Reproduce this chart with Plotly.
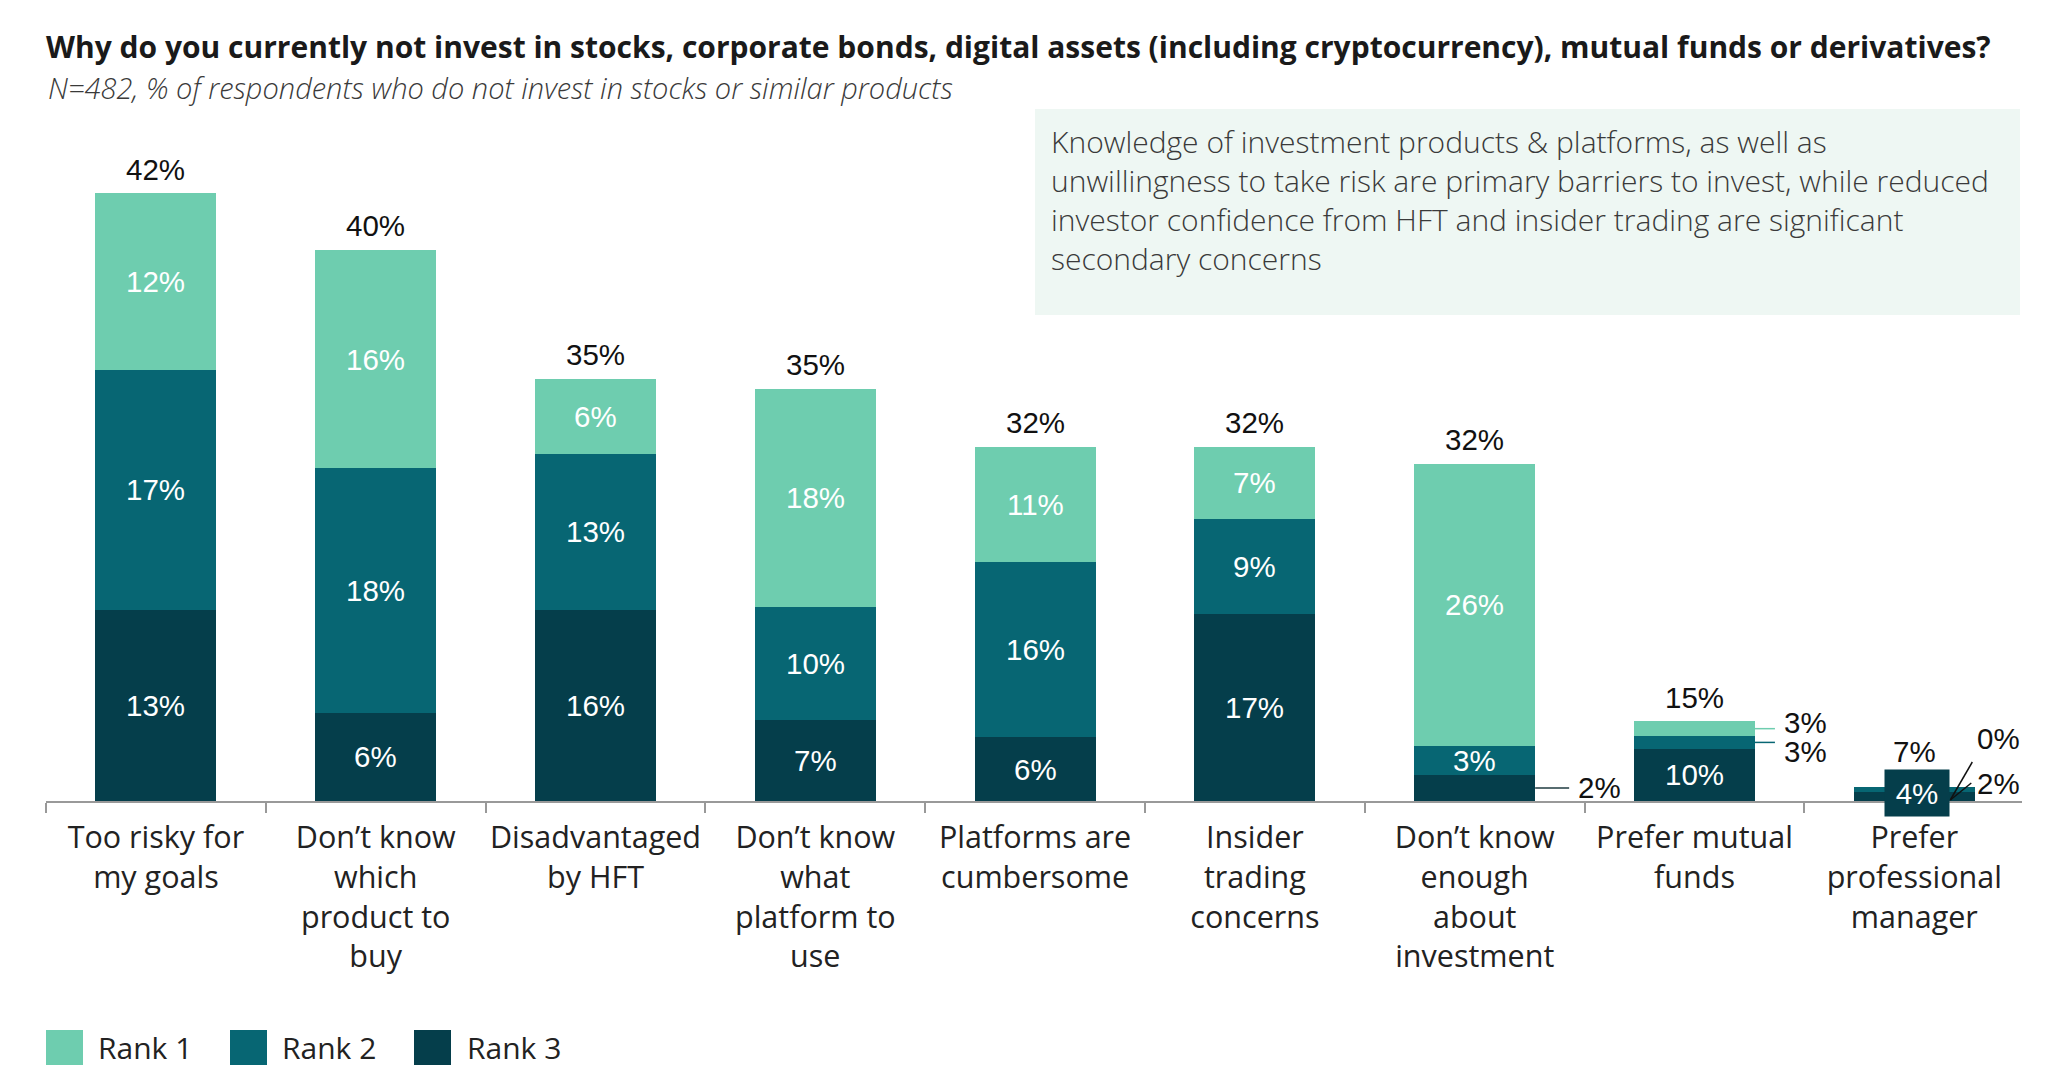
import numpy as np
import plotly.graph_objects as go

# ---------------- data ----------------
categories = [
    "Too risky for<br>my goals",
    "Don’t know<br>which<br>product to<br>buy",
    "Disadvantaged<br>by HFT",
    "Don’t know<br>what<br>platform to<br>use",
    "Platforms are<br>cumbersome",
    "Insider<br>trading<br>concerns",
    "Don’t know<br>enough<br>about<br>investment",
    "Prefer mutual<br>funds",
    "Prefer<br>professional<br>manager",
]
# segment heights as drawn in the picture (% units)
rank1_h = [12.2, 15.1, 5.2, 15.1, 8.0, 5.0, 19.5, 1.0, 0.0]
rank2_h = [16.6, 16.9, 10.8, 7.8, 12.1, 6.6, 2.0, 0.9, 0.4]
rank3_h = [13.2, 6.1, 13.2, 5.6, 4.4, 12.9, 1.8, 3.6, 0.6]
# printed labels
rank1_lbl = ["12%", "16%", "6%", "18%", "11%", "7%", "26%", "3%", "0%"]
rank2_lbl = ["17%", "18%", "13%", "10%", "16%", "9%", "3%", "3%", "2%"]
rank3_lbl = ["13%", "6%", "16%", "7%", "6%", "17%", "2%", "10%", "4%"]
total_lbl = ["42%", "40%", "35%", "35%", "32%", "32%", "32%", "15%", "7%"]
series_names = ["Rank 1", "Rank 2", "Rank 3"]

# ---------------- style ----------------
C1, C2, C3 = "#6ECDAF", "#076673", "#053E4B"
BAR_W = 0.55
LBL_FONT = dict(family="Liberation Sans, Arial, sans-serif", size=29.5)
OS = "Open Sans, sans-serif"

fig = go.Figure()
for h, c, n in [(rank3_h, C3, "Rank 3"), (rank2_h, C2, "Rank 2"), (rank1_h, C1, "Rank 1")]:
    fig.add_trace(go.Bar(x=categories, y=h, name=n, marker=dict(color=c, line=dict(width=0)),
                         width=BAR_W, showlegend=False, hoverinfo="skip"))

r1, r2, r3 = map(np.array, (rank1_h, rank2_h, rank3_h))
base = {"r3": np.zeros(9), "r2": r3, "r1": r3 + r2}
heights = {"r1": r1, "r2": r2, "r3": r3}
labels = {"r1": rank1_lbl, "r2": rank2_lbl, "r3": rank3_lbl}
colors = {"r1": C1, "r2": C2, "r3": C3}
tops = r1 + r2 + r3

# outside labels with short leader lines: (series, index) -> (line px, text xshift, text yshift)
side = {("r3", 6): (34, 41, 0), ("r1", 7): (20, 27, 6), ("r2", 7): (20, 27, -9)}
special_last = {("r1", 8), ("r2", 8), ("r3", 8)}

ann = []
shapes = []
for s in ["r1", "r2", "r3"]:
    for i in range(9):
        mid = base[s][i] + heights[s][i] / 2
        if (s, i) in side:
            ln, xs, ys = side[(s, i)]
            line_col = colors[s] if s != "r3" else "#1f3b40"
            shapes.append(dict(type="line", xref="x", yref="y", xsizemode="pixel",
                               xanchor=i + BAR_W / 2, x0=0, x1=ln, y0=mid, y1=mid,
                               line=dict(color=line_col, width=1.5)))
            ann.append(dict(x=i + BAR_W / 2, y=mid, text=labels[s][i],
                            xanchor="left", yanchor="middle", xshift=xs, yshift=ys,
                            showarrow=False, font=dict(color="#111", **LBL_FONT)))
        elif (s, i) in special_last:
            continue
        else:
            ann.append(dict(x=i, y=mid, text=labels[s][i], showarrow=False,
                            xanchor="center", yanchor="middle",
                            font=dict(color="white", **LBL_FONT)))

# last category: boxed rank-3 label and pointer labels for rank 1 / rank 2
ann.append(dict(x=8, y=0, text=rank3_lbl[8], showarrow=False, xanchor="center", yanchor="middle",
                yshift=8, xshift=3, bgcolor=C3, width=52, height=34, borderpad=6,
                font=dict(color="white", **LBL_FONT)))
for s, ys_txt, (lx0, ly0) in [("r1", 63, (58, 39)), ("r2", 18, (57, 18))]:
    ann.append(dict(x=8, y=0, text=labels[s][8], showarrow=False, xanchor="center",
                    yanchor="middle", xshift=84, yshift=ys_txt, font=dict(color="#111", **LBL_FONT)))
    shapes.append(dict(type="line", xref="x", yref="y", xsizemode="pixel", ysizemode="pixel",
                       xanchor=8, yanchor=0, x0=lx0, y0=ly0, x1=36, y1=1,
                       line=dict(color="#111", width=1.5)))

# totals
for i in range(9):
    ann.append(dict(x=i, y=tops[i], text=total_lbl[i], showarrow=False, xanchor="center",
                    yanchor="middle", yshift=35 if i == 8 else 24,
                    font=dict(color="#111", **LBL_FONT)))

# ---------------- layout geometry ----------------
W, H = 2059, 1077
L, R, T, B = 46, 37, 150, 276
PW, PH = W - L - R, H - T - B


def px(xp):
    return (xp - L) / PW


def py(yp):
    return (H - B - yp) / PH


# subtitle
ann.append(dict(xref="paper", yref="paper", x=0, y=py(87), xanchor="left", yanchor="middle",
                text="<i>N=482, % of respondents who do not invest in stocks or similar products</i>",
                showarrow=False, font=dict(family=OS, size=29, color="#3a3a3a", weight=300)))

# callout box
shapes.append(dict(type="rect", xref="paper", yref="paper", x0=px(1035), x1=px(2020),
                   y0=py(315), y1=py(109), fillcolor="#EEF7F3", line=dict(width=0), layer="below"))
ann.append(dict(xref="paper", yref="paper", x=px(1049), y=py(200), xanchor="left", yanchor="middle",
                align="left", showarrow=False,
                text=("Knowledge of investment products &amp; platforms, as well as<br>"
                      "unwillingness to take risk are primary barriers to invest, while reduced<br>"
                      "investor confidence from HFT and insider trading are significant<br>"
                      "secondary concerns"),
                font=dict(family=OS, size=30, color="#3a3a3a", weight=300)))

# legend (manual)
for (x0, x1, tx), n, c in zip([(46, 83, 96), (230, 267, 280), (414, 451, 465)], series_names, [C1, C2, C3]):
    shapes.append(dict(type="rect", xref="paper", yref="paper", x0=px(x0), x1=px(x1),
                       y0=py(1065), y1=py(1030), fillcolor=c, line=dict(width=0)))
    ann.append(dict(xref="paper", yref="paper", x=px(tx), y=py(1047), xanchor="left",
                    yanchor="middle", text=n, showarrow=False,
                    font=dict(family=OS, size=30, color="#222")))

fig.update_layout(
    width=W, height=H,
    margin=dict(l=L, r=R, t=T, b=B, pad=0, autoexpand=False),
    barmode="stack",
    bargap=0,
    paper_bgcolor="white",
    plot_bgcolor="white",
    title=dict(text="<b>Why do you currently not invest in stocks, corporate bonds, digital assets (including cryptocurrency), mutual funds or derivatives?</b>",
               xref="container", yref="container", x=L / W, y=1 - 47 / H,
               xanchor="left", yanchor="middle",
               font=dict(family=OS, size=30, color="#1a1a1a")),
    xaxis=dict(type="category", range=[-0.5, 8.49], tickson="boundaries", ticks="outside",
               ticklen=10, tickwidth=1.5, tickcolor="#999", showline=True, linecolor="#999",
               linewidth=1.5, showgrid=False, zeroline=False, ticklabelstandoff=9,
               tickangle=0, automargin=False,
               tickfont=dict(family=OS, size=30.5, color="#222")),
    yaxis=dict(visible=False, range=[0, 45], showgrid=False, zeroline=False),
    annotations=ann,
    shapes=shapes,
)

fig.write_html("out.html")
